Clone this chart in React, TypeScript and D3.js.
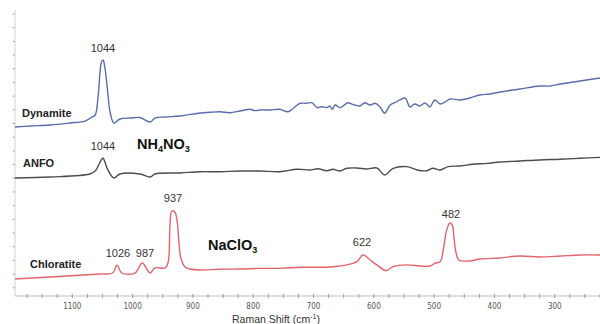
import React from "react";
import * as d3 from "d3";

// wavenumbers (cm-1) and relative intensities
const dynamiteShift = [1195, 1170, 1137, 1104, 1079, 1067, 1062, 1057, 1054, 1052, 1049, 1046, 1042, 1037, 1031, 1021, 1004, 988, 971, 963, 946, 921, 888, 872, 855, 839, 822, 805, 797, 789, 772, 756, 742, 727, 722, 711, 703, 694, 686, 678, 673, 669, 664, 656, 643, 635, 623, 615, 606, 598, 590, 582, 573, 562, 557, 548, 540, 532, 524, 515, 507, 499, 490, 482, 474, 457, 441, 424, 407, 391, 358, 325, 308, 291, 258, 225];
const dynamiteValues = [11.75, 11.82, 11.89, 12.04, 12.18, 12.48, 12.62, 14.08, 15.77, 16.43, 16.64, 16.1, 14.6, 12.77, 12.04, 12.33, 12.4, 12.44, 12.11, 12.4, 12.48, 12.55, 12.77, 12.82, 12.86, 12.79, 12.91, 13.04, 12.94, 12.99, 12.99, 13.04, 12.86, 13.35, 13.48, 13.48, 13.52, 13.16, 13.23, 13.16, 13.28, 13.04, 13.35, 13.16, 13.52, 13.4, 13.28, 13.52, 13.35, 13.48, 13.23, 12.75, 13.35, 13.59, 13.72, 13.86, 13.21, 13.43, 13.28, 13.5, 13.21, 13.72, 13.43, 13.57, 13.79, 13.72, 13.86, 14.08, 14.16, 14.3, 14.52, 14.74, 14.74, 14.89, 15.11, 15.33];

const anfoShift = [1195, 1137, 1071, 1062, 1057, 1052, 1049, 1046, 1041, 1031, 1021, 988, 971, 963, 921, 888, 855, 822, 789, 756, 727, 706, 693, 678, 668, 656, 645, 628, 612, 595, 582, 568, 545, 528, 512, 502, 490, 477, 457, 436, 412, 391, 358, 325, 291, 258, 225];
const anfoValues = [8.02, 8.09, 8.31, 8.53, 8.9, 9.34, 9.48, 9.19, 8.61, 8.02, 8.31, 8.31, 8.09, 8.31, 8.39, 8.48, 8.48, 8.53, 8.53, 8.48, 8.66, 8.6, 8.7, 8.55, 8.66, 8.53, 8.73, 8.75, 8.68, 8.75, 8.24, 8.73, 8.85, 8.6, 8.55, 8.73, 8.6, 8.85, 8.9, 9.02, 9.09, 9.19, 9.26, 9.34, 9.39, 9.46, 9.53];

const chloratiteShift = [1195, 1137, 1054, 1033, 1026, 1018, 996, 984, 971, 963, 946, 941, 938, 935, 930, 926, 920, 913, 905, 888, 855, 822, 789, 756, 722, 689, 668, 645, 628, 618, 606, 595, 580, 568, 545, 524, 507, 499, 490, 485, 480, 477, 474, 470, 467, 464, 459, 441, 424, 391, 358, 325, 291, 258, 225];
const chloratiteValues = [0.64, 0.79, 1.01, 1.08, 1.66, 1.08, 1.08, 1.81, 1.08, 1.45, 1.45, 1.88, 4.59, 5.61, 5.54, 4.81, 2.18, 1.52, 1.37, 1.3, 1.35, 1.37, 1.42, 1.42, 1.5, 1.5, 1.54, 1.67, 1.91, 2.4, 2.03, 1.67, 1.25, 1.54, 1.67, 1.59, 1.59, 1.79, 1.91, 2.76, 4.08, 4.51, 4.73, 4.59, 3.64, 2.62, 2.03, 1.96, 2.1, 2.18, 2.32, 2.25, 2.32, 2.4, 2.4];

const xTickLabels = [1100, 1000, 900, 800, 700, 600, 500, 400, 300];

const width = 600;
const height = 324;

const x = d3.scaleLinear().domain([1195, 225]).range([15, 600]);
const y = d3.scaleLinear().domain([-0.6, 20]).range([296, 14]);

const line = d3
  .line<[number, number]>()
  .x((d) => x(d[0]))
  .y((d) => y(d[1]))
  .curve(d3.curveCatmullRom);

const zip = (a: number[], b: number[]) => a.map((v, i) => [v, b[i]] as [number, number]);

const series = [
  { name: "Dynamite", color: "#5a6cae", pts: zip(dynamiteShift, dynamiteValues) },
  { name: "ANFO", color: "#4d4d4d", pts: zip(anfoShift, anfoValues) },
  { name: "Chloratite", color: "#e4646c", pts: zip(chloratiteShift, chloratiteValues) },
];

const font = "'Liberation Sans', Arial, sans-serif";

export default function App() {
  const minorTicks = d3.range(1175, 224, -25);
  const yTicks = d3.range(0, 21, 1);

  return (
    <svg width={width} height={height} style={{ position: "absolute", left: 0, top: 0 }} fontFamily={font}>
      <rect width={width} height={height} fill="#fff" />

      {/* left axis */}
      <line x1={15} x2={15} y1={10} y2={296} stroke="#c8c8c8" strokeWidth={0.8} />
      {yTicks.map((t) => (
        <line key={t} x1={12.5} x2={15} y1={y(t)} y2={y(t)} stroke="#999" strokeWidth={0.8} />
      ))}

      {/* bottom axis */}
      <line x1={15} x2={600} y1={296} y2={296} stroke="#b0b0b0" strokeWidth={0.8} />
      {minorTicks.map((t) => (
        <line key={t} x1={x(t)} x2={x(t)} y1={294} y2={298} stroke="#888" strokeWidth={0.8} />
      ))}
      {xTickLabels.map((t) => (
        <text key={t} x={x(t)} y={309} textAnchor="middle" fontSize={8} fill="#555"
          fontFamily="'Liberation Sans Narrow', 'DejaVu Sans Condensed', sans-serif">
          {t}
        </text>
      ))}
      <text x={232} y={323} fontSize={10.5} fill="#333">
        Raman Shift (cm<tspan dy={-4} fontSize={7}>-1</tspan><tspan dy={4}>)</tspan>
      </text>

      {series.map((s) => (
        <path key={s.name} d={line(s.pts) ?? ""} fill="none" stroke={s.color} strokeWidth={1.4}
          strokeLinejoin="round" />
      ))}

      {/* series names */}
      <text x={22} y={117} fontSize={11} fontWeight="bold" fill="#222">Dynamite</text>
      <text x={23} y={167} fontSize={11} fontWeight="bold" fill="#222">ANFO</text>
      <text x={30} y={268} fontSize={11} fontWeight="bold" fill="#222">Chloratite</text>

      {/* peak labels */}
      <text x={103} y={52} textAnchor="middle" fontSize={11} fill="#333">1044</text>
      <text x={103} y={150} textAnchor="middle" fontSize={11} fill="#333">1044</text>
      <text x={173} y={202} textAnchor="middle" fontSize={11} fill="#333">937</text>
      <text x={118} y={257} textAnchor="middle" fontSize={11} fill="#333">1026</text>
      <text x={145} y={257} textAnchor="middle" fontSize={11} fill="#333">987</text>
      <text x={362} y={246} textAnchor="middle" fontSize={11} fill="#333">622</text>
      <text x={451} y={218} textAnchor="middle" fontSize={11} fill="#333">482</text>

      {/* compound labels */}
      <text x={137} y={149} fontSize={14.5} fontWeight="bold" fill="#111">
        NH<tspan dy={3} fontSize={9}>4</tspan><tspan dy={-3}>NO</tspan><tspan dy={3} fontSize={9}>3</tspan>
      </text>
      <text x={208} y={250} fontSize={14.5} fontWeight="bold" fill="#111">
        NaClO<tspan dy={3} fontSize={9}>3</tspan>
      </text>
    </svg>
  );
}
